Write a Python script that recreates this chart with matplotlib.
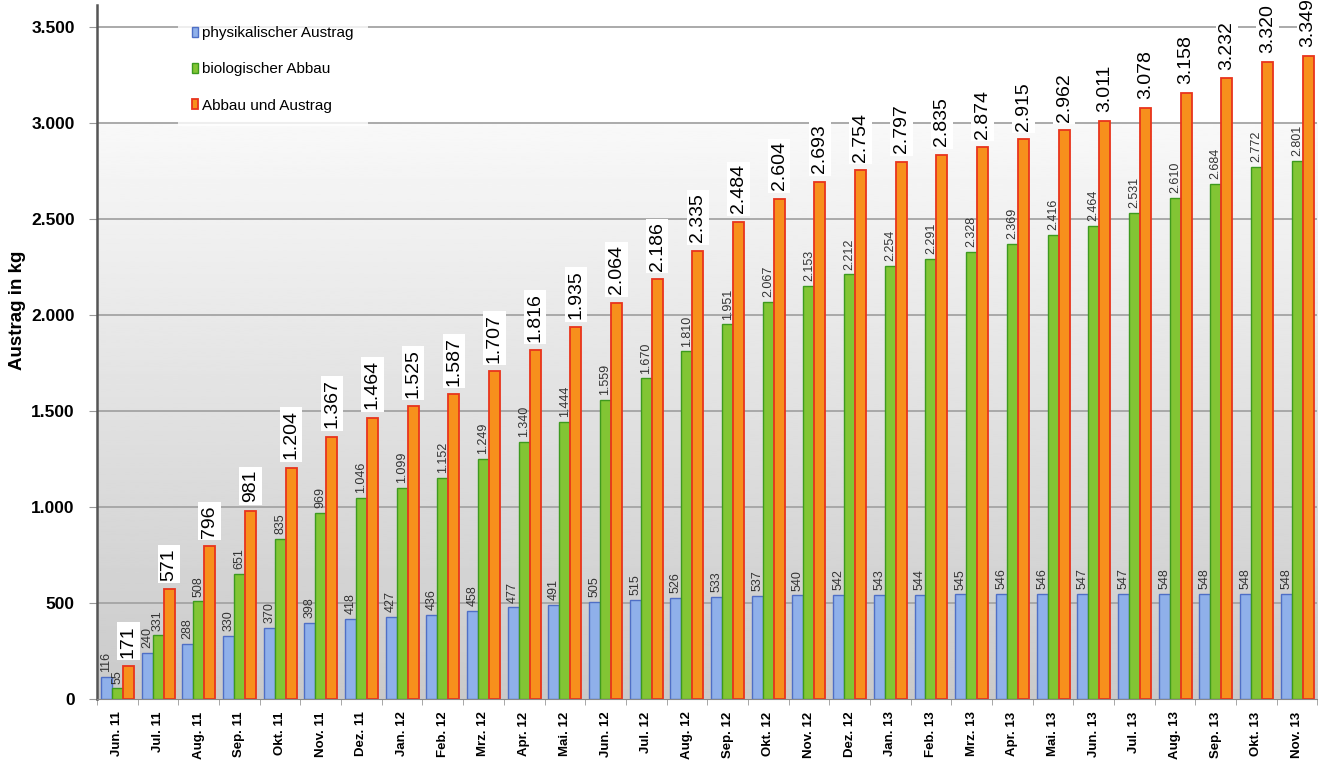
import matplotlib.pyplot as plt
import numpy as np

plt.rcParams["font.family"] = ["Liberation Sans", "DejaVu Sans"]

# data
months = ["Jun. 11", "Jul. 11", "Aug. 11", "Sep. 11", "Okt. 11", "Nov. 11", "Dez. 11",
          "Jan. 12", "Feb. 12", "Mrz. 12", "Apr. 12", "Mai. 12", "Jun. 12", "Jul. 12",
          "Aug. 12", "Sep. 12", "Okt. 12", "Nov. 12", "Dez. 12", "Jan. 13", "Feb. 13",
          "Mrz. 13", "Apr. 13", "Mai. 13", "Jun. 13", "Jul. 13", "Aug. 13", "Sep. 13",
          "Okt. 13", "Nov. 13"]
physikalisch = [116, 240, 288, 330, 370, 398, 418, 427, 436, 458, 477, 491, 505, 515, 526,
                533, 537, 540, 542, 543, 544, 545, 546, 546, 547, 547, 548, 548, 548, 548]
biologisch = [55, 331, 508, 651, 835, 969, 1046, 1099, 1152, 1249, 1340, 1444, 1559, 1670,
              1810, 1951, 2067, 2153, 2212, 2254, 2291, 2328, 2369, 2416, 2464, 2531, 2610,
              2684, 2772, 2801]
gesamt = [171, 571, 796, 981, 1204, 1367, 1464, 1525, 1587, 1707, 1816, 1935, 2064, 2186,
          2335, 2484, 2604, 2693, 2754, 2797, 2835, 2874, 2915, 2962, 3011, 3078, 3158,
          3232, 3320, 3349]


def fmt(v):
    return f"{v:,}".replace(",", ".")


fig = plt.figure(figsize=(13.18, 7.61), dpi=100)
ax = fig.add_axes([0.0736, 0.0815, 0.926, 0.912])

x = np.arange(len(months))
w = 0.27

# background: white at top, gray gradient below the 3.000 line
frac = np.linspace(0, 1, 300)
grad = np.where(frac < 0.83, 0.79 + (0.975 - 0.79) * frac / 0.83, 1.0).reshape(-1, 1)
ax.imshow(grad, extent=[0, 1, 0, 1], transform=ax.transAxes, aspect="auto",
          cmap="gray", vmin=0, vmax=1, origin="lower", zorder=0)

for yv in range(500, 3501, 500):
    ax.axhline(yv, color="#a4a4a4", lw=1.3, zorder=1)

ax.bar(x - w, physikalisch, w, color="#8fb0ea", edgecolor="#4f6fc6", lw=1,
       label="physikalischer Austrag", zorder=2)
ax.bar(x, biologisch, w, color="#82c534", edgecolor="#3d9a1e", lw=1,
       label="biologischer Abbau", zorder=2)
ax.bar(x + w, gesamt, w, color="#f7901c", edgecolor="#e8341c", lw=1.3,
       label="Abbau und Austrag", zorder=2)

for i in x:
    ax.text(i - w, physikalisch[i] + 25, fmt(physikalisch[i]), rotation=90, ha="center",
            va="bottom", fontsize=9, color="#333333", zorder=3)
    ax.text(i, biologisch[i] + 25, fmt(biologisch[i]), rotation=90, ha="center",
            va="bottom", fontsize=9, color="#333333", zorder=3)
    ax.text(i + w, gesamt[i] + 45, fmt(gesamt[i]), rotation=90, ha="center",
            va="bottom", fontsize=14, color="black", zorder=4,
            bbox=dict(facecolor="white", edgecolor="none", pad=2))

ax.set_xlim(-0.5, len(months) - 0.5)
ax.set_ylim(0, 3615)
ax.set_yticks(range(0, 3501, 500))
ax.set_yticklabels([fmt(v) for v in range(0, 3501, 500)], fontsize=12.5, fontweight="bold")
ax.set_xticks(x)
ax.set_xticklabels(months, rotation=90, fontsize=9.5, fontweight="bold")
ax.tick_params(axis="x", length=0, pad=9)
ax.set_xticks(np.arange(-0.5, len(months), 1), minor=True)
ax.tick_params(axis="x", which="minor", length=4, color="#999999")
ax.tick_params(axis="y", length=6, color="#999999", pad=10)
ax.set_ylabel("Austrag in kg", fontsize=13.5, fontweight="bold")
ax.yaxis.set_label_coords(-0.058, 0.56)

for s in ["top", "right"]:
    ax.spines[s].set_visible(False)
ax.spines["left"].set_color("#555555")
ax.spines["left"].set_linewidth(1.8)
ax.spines["bottom"].set_color("#888888")

leg = ax.legend(loc="upper left", bbox_to_anchor=(0.06, 1.0), frameon=True,
                fontsize=11, handlelength=0.45, handleheight=0.6, handletextpad=0.25,
                labelspacing=1.45, borderpad=0.9, fancybox=False)
leg.get_frame().set_edgecolor("none")
leg.get_frame().set_facecolor("white")
leg.set_zorder(5)

fig.savefig("out.png", dpi=100)
